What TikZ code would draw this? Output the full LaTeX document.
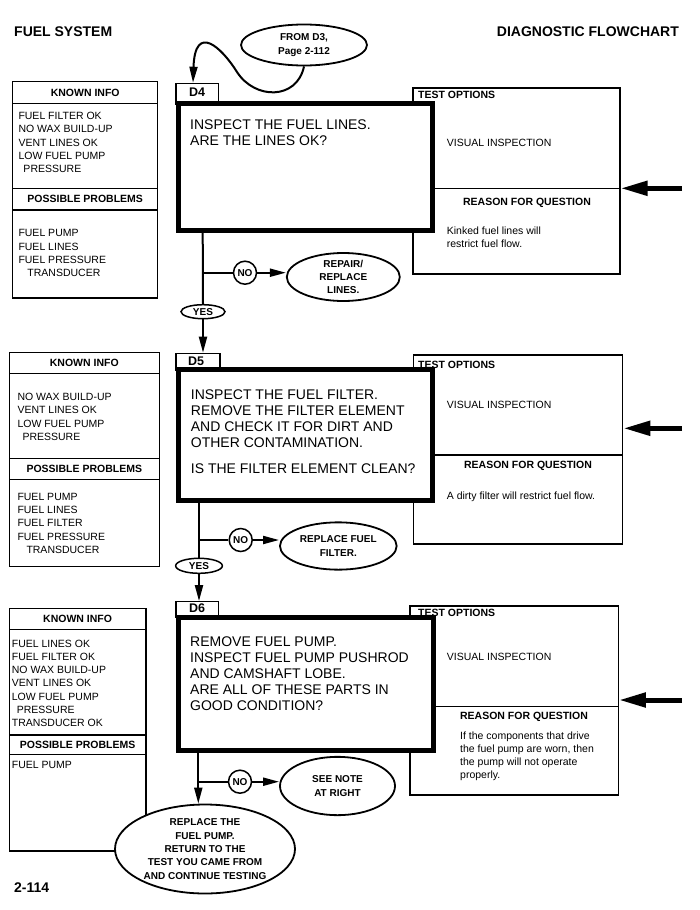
\documentclass[tikz,border=0pt]{standalone}
\usepackage{fontspec}
\setmainfont{Liberation Sans}
\usetikzlibrary{arrows.meta,shapes.geometric,fit}
\tikzset{
  thinbox/.style={draw,line width=1.2pt,inner sep=0pt,fill=white},
  mainbox/.style={draw,line width=5pt,inner sep=0pt,fill=white},
  hdr/.style={inner sep=0pt,font=\bfseries\fontsize{10.5}{13.3}\selectfont},
  info/.style={inner sep=0pt,anchor=north west,align=left,font=\fontsize{10.5}{13.3}\selectfont},
  qtext/.style={inner sep=0pt,anchor=north west,align=left,font=\fontsize{14}{16}\selectfont},
  dlab/.style={inner sep=0pt,font=\bfseries\fontsize{12.5}{14}\selectfont},
  ell/.style={ellipse,draw,line width=1.8pt,inner sep=0pt,align=center,fill=white,font=\bfseries\fontsize{10}{13.3}\selectfont},
  nocirc/.style={circle,draw,line width=1.5pt,inner sep=0pt,minimum size=23pt,fill=white,font=\bfseries\fontsize{10}{12}\selectfont},
  conn/.style={line width=2pt},
  arr/.style={-{Triangle[length=16pt,width=8pt]}},
  bigarrow/.style={line width=5pt,-{Triangle[length=27pt,width=14pt]}},
  title/.style={inner sep=0pt,anchor=west,font=\bfseries\fontsize{14}{16}\selectfont}
}
\begin{document}
\begin{tikzpicture}[x=1pt,y=-1pt]
\fill[white] (0,0) rectangle (699,910);
\useasboundingbox (0,0) rectangle (699,910);

% headers
\node[title] (hl) at (14,31.7) {FUEL SYSTEM};
\node[title] (hr) at (496.7,31.7) {DIAGNOSTIC FLOWCHART};
\node[title] (ft) at (14,888) {2-114};

% ---------- from ellipse ----------
\node[ell,minimum width=126pt,minimum height=41pt] (f0) at (304,45) {FROM D3,\\Page 2-112};

% ================= BLOCK 1 =================
\node[thinbox,fit={(12.7,81.7) (157.7,103.3)}] (k1h) {};
\node[hdr] (k1ht) at (k1h.center) {KNOWN INFO};
\node[thinbox,fit={(12.7,103.3) (157.7,188.3)}] (k1) {};
\node[info] (k1t) at (18.3,111.9) {FUEL FILTER OK\\NO WAX BUILD-UP\\VENT LINES OK\\LOW FUEL PUMP\\\hspace*{5pt}PRESSURE};
\node[thinbox,fit={(12.7,188.3) (157.7,210)}] (p1h) {};
\node[hdr] (p1ht) at (p1h.center) {POSSIBLE PROBLEMS};
\node[thinbox,fit={(12.7,210) (157.7,298)}] (p1) {};
\node[info] (p1t) at (18.3,229.5) {FUEL PUMP\\FUEL LINES\\FUEL PRESSURE\\\hspace*{9pt}TRANSDUCER};

\node[thinbox,fit={(413,88) (620,188.3)}] (t1) {};
\node[thinbox,fit={(413,188.3) (620,274)}] (r1) {};
\node[thinbox,fit={(176,83.3) (218.3,104)}] (d4) {};
\node[mainbox,fit={(178.5,103.5) (432.5,230.5)}] (m1) {};
\node[dlab] (d4t) at (197,92.3) {D4};
\node[qtext] (q1) at (190,120) {INSPECT THE FUEL LINES.\\ARE THE LINES OK?};
\node[hdr,anchor=west] (t1h) at (418,95) {TEST OPTIONS};
\node[info,anchor=west] (t1t) at (446.7,143.3) {VISUAL INSPECTION};
\node[hdr] (r1h) at (527,203.3) {REASON FOR QUESTION};
\node[info] (r1t) at (446.7,226.2) {Kinked fuel lines will\\restrict fuel flow.};

\coordinate (in1) at (682,188.3);
\draw[bigarrow] (in1) -- (in1 -| r1.east);

\draw[conn,arr] (f0.south) .. controls (297,100) and (255,100) .. (237,72)
   .. controls (222,48) and (195,22) .. (d4.north -| 193,0);

\coordinate (j1) at (202.7,272.7);
\node[nocirc] (n1) at (245,272.7) {NO};
\node[ell,minimum width=113pt,minimum height=43pt] (e1) at (343.3,277) {REPAIR/\\REPLACE\\LINES.};
\node[ell,minimum width=44pt,minimum height=14pt,line width=1.5pt] (y1) at (203,311.7) {YES};
\draw[conn] (m1.south -| j1) -- (y1.north);
\draw[conn] (j1) -- (n1.west);
\draw[conn,arr] (n1.east) -- (n1.east -| e1.west);

% ================= BLOCK 2 =================
\node[thinbox,fit={(9.3,352.7) (159.3,373.3)}] (k2h) {};
\node[hdr] (k2ht) at (k2h.center) {KNOWN INFO};
\node[thinbox,fit={(9.3,373.3) (159.3,458.3)}] (k2) {};
\node[info] (k2t) at (17.3,392.9) {NO WAX BUILD-UP\\VENT LINES OK\\LOW FUEL PUMP\\\hspace*{5pt}PRESSURE};
\node[thinbox,fit={(9.3,458.3) (159.3,479.3)}] (p2h) {};
\node[hdr] (p2ht) at (p2h.center) {POSSIBLE PROBLEMS};
\node[thinbox,fit={(9.3,479.3) (159.3,566.7)}] (p2) {};
\node[info] (p2t) at (17.3,492.9) {FUEL PUMP\\FUEL LINES\\FUEL FILTER\\FUEL PRESSURE\\\hspace*{9pt}TRANSDUCER};

\node[thinbox,fit={(413.3,355) (622.7,455)}] (t2) {};
\node[thinbox,fit={(413.3,455) (622.7,544)}] (r2) {};
\node[thinbox,fit={(176,353.3) (220,370)}] (d5) {};
\node[mainbox,fit={(178.5,369.5) (432.5,500.8)}] (m2) {};
\node[dlab] (d5t) at (196,361.3) {D5};
\node[qtext] (q2) at (190.7,390) {INSPECT THE FUEL FILTER.\\REMOVE THE FILTER ELEMENT\\AND CHECK IT FOR DIRT AND\\OTHER CONTAMINATION.\\[10pt]IS THE FILTER ELEMENT CLEAN?};
\node[hdr,anchor=west] (t2h) at (418,365) {TEST OPTIONS};
\node[info,anchor=west] (t2t) at (446.7,405) {VISUAL INSPECTION};
\node[hdr] (r2h) at (528,466) {REASON FOR QUESTION};
\node[info] (r2t) at (446.7,491.2) {A dirty filter will restrict fuel flow.};

\coordinate (in2) at (682,428.3);
\draw[bigarrow] (in2) -- (in2 -| t2.east);

\draw[conn,arr] (y1.south) -- (y1.south |- d5.north);

\coordinate (j2) at (199,540);
\node[nocirc] (n2) at (240.7,540) {NO};
\node[ell,minimum width=116.7pt,minimum height=47.3pt] (e2) at (338.3,546) {REPLACE FUEL\\FILTER.};
\node[ell,minimum width=46.7pt,minimum height=15pt,line width=1.5pt] (y2) at (199,565.8) {YES};
\draw[conn] (m2.south -| j2) -- (y2.north);
\draw[conn] (j2) -- (n2.west);
\draw[conn,arr] (n2.east) -- (n2.east -| e2.west);

% ================= BLOCK 3 =================
\node[thinbox,fit={(9.3,608.3) (146,629.3)}] (k3h) {};
\node[hdr] (k3ht) at (k3h.center) {KNOWN INFO};
\node[thinbox,fit={(9.3,629.3) (146,735)}] (k3) {};
\node[info] (k3t) at (11.7,639.5) {FUEL LINES OK\\FUEL FILTER OK\\NO WAX BUILD-UP\\VENT LINES OK\\LOW FUEL PUMP\\\hspace*{5pt}PRESSURE\\TRANSDUCER OK};
\node[thinbox,fit={(9.3,735) (146,754.3)}] (p3h) {};
\node[hdr] (p3ht) at (p3h.center) {POSSIBLE PROBLEMS};
\node[thinbox,fit={(9.3,754.3) (146,851)}] (p3) {};
\node[info] (p3t) at (11.7,761.2) {FUEL PUMP};

\node[thinbox,fit={(410,606) (618.3,706.7)}] (t3) {};
\node[thinbox,fit={(410,706.7) (618.3,795)}] (r3) {};
\node[thinbox,fit={(176,601.7) (218.3,617)}] (d6) {};
\node[mainbox,fit={(178.5,617.5) (433.5,750.2)}] (m3) {};
\node[dlab] (d6t) at (197,608.5) {D6};
\node[qtext] (q3) at (190,636.7) {REMOVE FUEL PUMP.\\INSPECT FUEL PUMP PUSHROD\\AND CAMSHAFT LOBE.\\ARE ALL OF THESE PARTS IN\\GOOD CONDITION?};
\node[hdr,anchor=west] (t3h) at (418,613.3) {TEST OPTIONS};
\node[info,anchor=west] (t3t) at (446.7,656.7) {VISUAL INSPECTION};
\node[hdr] (r3h) at (524,716.7) {REASON FOR QUESTION};
\node[info] (r3t) at (460,731.2) {If the components that drive\\the fuel pump are worn, then\\the pump will not operate\\properly.};

\coordinate (in3) at (682,700);
\draw[bigarrow] (in3) -- (in3 -| t3.east);

\draw[conn,arr] (y2.south) -- (y2.south |- d6.north);

\coordinate (j3) at (198.3,781.7);
\node[nocirc] (n3) at (240,781.7) {NO};
\node[ell,minimum width=115pt,minimum height=58.3pt] (e3) at (337.5,786) {SEE NOTE\\AT RIGHT};
\node[ell,minimum width=180pt,minimum height=89pt] (b3) at (205,849) {REPLACE THE\\FUEL PUMP.\\RETURN TO THE\\TEST YOU CAME FROM\\AND CONTINUE TESTING};
\draw[conn] (m3.south -| j3) -- (j3);
\draw[conn,arr] (j3) -- (j3 |- b3.north);
\draw[conn] (j3) -- (n3.west);
\draw[conn,arr] (n3.east) -- (n3.east -| e3.west);

\end{tikzpicture}
\end{document}
